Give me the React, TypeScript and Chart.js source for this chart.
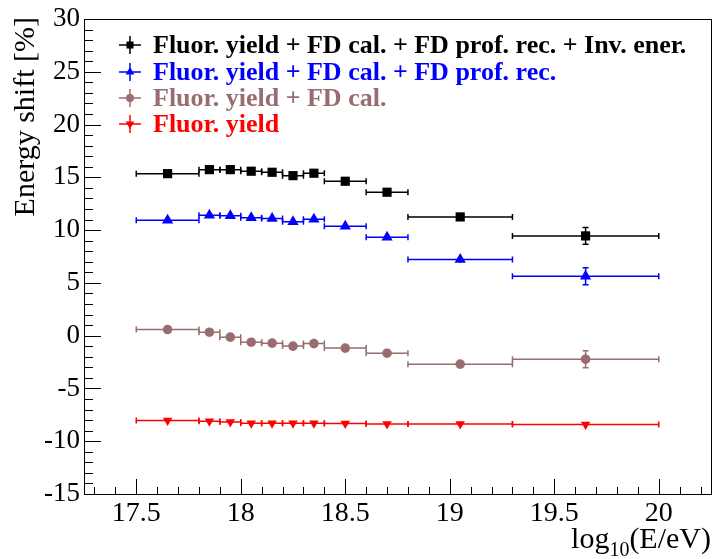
import React, { useEffect, useRef } from 'react';
import { Chart, registerables } from 'chart.js';
Chart.register(...registerables);

// ---------- data ----------
const binLow = [17.5, 17.8, 17.9, 18.0, 18.1, 18.2, 18.3, 18.4, 18.6, 18.8, 19.3];
const binHigh = [17.8, 17.9, 18.0, 18.1, 18.2, 18.3, 18.4, 18.6, 18.8, 19.3, 20.0];
const binCenter = [17.65, 17.85, 17.95, 18.05, 18.15, 18.25, 18.35, 18.5, 18.7, 19.05, 19.65];

const allShift = [15.35, 15.73, 15.73, 15.58, 15.48, 15.16, 15.39, 14.63, 13.59, 11.25, 9.45];
const allErr = [0.2, 0.2, 0.2, 0.2, 0.2, 0.2, 0.2, 0.2, 0.25, 0.3, 0.8];
const profShift = [10.94, 11.41, 11.37, 11.16, 11.09, 10.8, 11.03, 10.37, 9.33, 7.21, 5.63];
const profErr = [0.2, 0.2, 0.2, 0.2, 0.2, 0.2, 0.2, 0.2, 0.25, 0.3, 0.8];
const calShift = [0.58, 0.33, -0.14, -0.62, -0.71, -0.99, -0.75, -1.18, -1.66, -2.7, -2.23];
const calErr = [0.2, 0.2, 0.2, 0.2, 0.2, 0.2, 0.2, 0.2, 0.25, 0.3, 0.8];
const fyShift = [-8.04, -8.1, -8.19, -8.29, -8.29, -8.29, -8.29, -8.32, -8.38, -8.38, -8.41];
const fyErr = [0.1, 0.1, 0.1, 0.1, 0.1, 0.1, 0.1, 0.1, 0.1, 0.1, 0.15];

const seriesLabels = [
  'Fluor. yield + FD cal. + FD prof. rec. + Inv. ener.',
  'Fluor. yield + FD cal. + FD prof. rec.',
  'Fluor. yield + FD cal.',
  'Fluor. yield',
];
const seriesColors = ['#000000', '#0000ff', 'rgb(153,108,112)', '#ff0000'];
const seriesMarkers = ['square', 'triangle', 'circle', 'invtriangle'];
const seriesValues = [allShift, profShift, calShift, fyShift];
const seriesErrors = [allErr, profErr, calErr, fyErr];

const xTickValues = [17.5, 18, 18.5, 19, 19.5, 20];
const yTickValues = [-15, -10, -5, 0, 5, 10, 15, 20, 25, 30];
const xMinorStep = 0.1;
const yMinorStep = 1;

const yTitle = 'Energy shift [%]';
const xTitleMain = 'log';
const xTitleSub = '10';
const xTitleTail = '(E/eV)';

const FONT = '"Liberation Serif", "Times New Roman", Times, serif';

function drawMarker(ctx: CanvasRenderingContext2D, kind: string, x: number, y: number, r: number, color: string) {
  ctx.save();
  ctx.fillStyle = color;
  ctx.beginPath();
  if (kind === 'square') {
    const s = r * 1.414;
    ctx.rect(x - s / 2, y - s / 2, s, s);
  } else if (kind === 'triangle') {
    const h = r * Math.sin(Math.PI / 3);
    ctx.moveTo(x, y - r);
    ctx.lineTo(x + h, y + r / 2);
    ctx.lineTo(x - h, y + r / 2);
    ctx.closePath();
  } else if (kind === 'invtriangle') {
    const h = r * Math.sin(Math.PI / 3);
    ctx.moveTo(x, y + r);
    ctx.lineTo(x + h, y - r / 2);
    ctx.lineTo(x - h, y - r / 2);
    ctx.closePath();
  } else {
    ctx.arc(x, y, r, 0, Math.PI * 2);
  }
  ctx.fill();
  ctx.restore();
}

const errorBarPlugin = {
  id: 'errorBars',
  beforeDatasetsDraw(chart: any) {
    const ctx = chart.ctx as CanvasRenderingContext2D;
    const xs = chart.scales.x;
    const ys = chart.scales.y;
    ctx.save();
    ctx.lineWidth = 1.5;
    seriesValues.forEach((vals, d) => {
      ctx.strokeStyle = seriesColors[d];
      vals.forEach((v, i) => {
        const py = ys.getPixelForValue(v);
        const xl = xs.getPixelForValue(binLow[i]);
        const xh = xs.getPixelForValue(binHigh[i]);
        const px = xs.getPixelForValue(binCenter[i]);
        ctx.beginPath();
        ctx.moveTo(xl, py);
        ctx.lineTo(xh, py);
        ctx.moveTo(xl, py - 3);
        ctx.lineTo(xl, py + 3);
        ctx.moveTo(xh, py - 3);
        ctx.lineTo(xh, py + 3);
        const e = seriesErrors[d][i];
        const yt = ys.getPixelForValue(v + e);
        const yb = ys.getPixelForValue(v - e);
        ctx.moveTo(px, yt);
        ctx.lineTo(px, yb);
        if (py - yt > 5) {
          ctx.moveTo(px - 3, yt);
          ctx.lineTo(px + 3, yt);
          ctx.moveTo(px - 3, yb);
          ctx.lineTo(px + 3, yb);
        }
        ctx.stroke();
      });
    });
    ctx.restore();
  },
};

const decorPlugin = {
  id: 'decor',
  afterDraw(chart: any) {
    const ctx = chart.ctx as CanvasRenderingContext2D;
    const a = chart.chartArea;
    const xs = chart.scales.x;
    const ys = chart.scales.y;
    ctx.save();
    // frame
    ctx.strokeStyle = '#000';
    ctx.lineWidth = 1;
    ctx.strokeRect(Math.round(a.left) + 0.5, Math.round(a.top) + 0.5, Math.round(a.right - a.left), Math.round(a.bottom - a.top));
    // y ticks
    ctx.beginPath();
    for (let v = ys.min; v <= ys.max + 1e-6; v += yMinorStep) {
      const py = Math.round(ys.getPixelForValue(v)) + 0.5;
      const major = yTickValues.some((t) => Math.abs(t - v) < 1e-6);
      ctx.moveTo(a.left, py);
      ctx.lineTo(a.left + (major ? 17 : 9), py);
    }
    // x ticks
    const start = Math.ceil(xs.min / xMinorStep - 1e-6) * xMinorStep;
    for (let v = start; v <= xs.max + 1e-6; v += xMinorStep) {
      const px = Math.round(xs.getPixelForValue(v)) + 0.5;
      const major = xTickValues.some((t) => Math.abs(t - v) < 1e-6);
      ctx.moveTo(px, a.bottom);
      ctx.lineTo(px, a.bottom - (major ? 15 : 7));
    }
    ctx.stroke();

    // y title
    ctx.fillStyle = '#000';
    ctx.save();
    ctx.translate(34, 17);
    ctx.rotate(-Math.PI / 2);
    ctx.font = `30px ${FONT}`;
    ctx.textAlign = 'right';
    ctx.textBaseline = 'alphabetic';
    ctx.fillText(yTitle, 0, 0);
    ctx.restore();

    // x title
    ctx.textAlign = 'left';
    ctx.textBaseline = 'alphabetic';
    const mainFont = `30px ${FONT}`;
    const subFont = `20px ${FONT}`;
    ctx.font = mainFont;
    const w1 = ctx.measureText(xTitleMain).width;
    const w3 = ctx.measureText(xTitleTail).width;
    ctx.font = subFont;
    const w2 = ctx.measureText(xTitleSub).width;
    const xEnd = 711;
    let tx = xEnd - (w1 + w2 + w3);
    const base = 548;
    ctx.font = mainFont;
    ctx.fillText(xTitleMain, tx, base);
    tx += w1;
    ctx.font = subFont;
    ctx.fillText(xTitleSub, tx, base + 8);
    tx += w2;
    ctx.font = mainFont;
    ctx.fillText(xTitleTail, tx, base);

    // legend
    const rowY = [45, 72, 98, 124];
    seriesLabels.forEach((lab, i) => {
      const y = rowY[i];
      const mx = 130;
      ctx.strokeStyle = seriesColors[i];
      ctx.lineWidth = 1.5;
      ctx.beginPath();
      ctx.moveTo(mx - 11, y);
      ctx.lineTo(mx + 11, y);
      ctx.moveTo(mx, y - 9);
      ctx.lineTo(mx, y + 9);
      ctx.stroke();
      drawMarker(ctx, seriesMarkers[i], mx, y, seriesMarkers[i] === 'circle' ? 4 : 5, seriesColors[i]);
      ctx.fillStyle = seriesColors[i];
      ctx.font = `bold 26px ${FONT}`;
      ctx.textBaseline = 'middle';
      ctx.textAlign = 'left';
      ctx.fillText(lab, 153, y + 1);
    });
    ctx.restore();
  },
};

export default function App() {
  const canvasRef = useRef<HTMLCanvasElement>(null);
  useEffect(() => {
    const canvas = canvasRef.current;
    if (!canvas) return;
    const pointStyles: any[] = ['rect', 'triangle', 'circle', 'triangle'];
    const radii = [6.5, 6.5, 4.8, 5.5];
    const datasets = seriesValues.map((vals, d) => ({
      label: seriesLabels[d],
      data: binCenter.map((x, i) => ({ x, y: vals[i] })),
      pointStyle: pointStyles[d],
      rotation: d === 3 ? 180 : 0,
      pointRadius: radii[d],
      backgroundColor: seriesColors[d],
      borderColor: seriesColors[d],
      borderWidth: 0,
      showLine: false,
    }));
    const chart = new Chart(canvas, {
      type: 'scatter',
      data: { datasets },
      plugins: [errorBarPlugin, decorPlugin],
      options: {
        responsive: false,
        animation: false,
        devicePixelRatio: 1,
        layout: { autoPadding: false, padding: { top: 19, right: 2, left: 0, bottom: 0 } },
        plugins: { legend: { display: false }, tooltip: { enabled: false } },
        scales: {
          x: {
            type: 'linear',
            min: 17.25,
            max: 20.25,
            grid: { display: false, drawTicks: false },
            border: { display: false },
            afterBuildTicks: (s: any) => {
              s.ticks = xTickValues.map((v) => ({ value: v }));
            },
            afterFit: (s: any) => {
              s.height = 65;
              s.paddingLeft = 0;
              s.paddingRight = 0;
            },
            ticks: {
              font: { family: FONT, size: 28 },
              color: '#000',
              padding: 3,
              maxRotation: 0,
              autoSkip: false,
              callback: (v: any) => String(v),
            },
          },
          y: {
            type: 'linear',
            min: -15,
            max: 30,
            grid: { display: false, drawTicks: false },
            border: { display: false },
            afterBuildTicks: (s: any) => {
              s.ticks = yTickValues.map((v) => ({ value: v }));
            },
            afterFit: (s: any) => {
              s.width = 84;
              s.paddingTop = 0;
              s.paddingBottom = 0;
            },
            ticks: {
              font: { family: FONT, size: 27 },
              color: '#000',
              padding: 4,
              autoSkip: false,
              callback: (v: any) => String(v),
            },
          },
        },
      },
    });
    return () => chart.destroy();
  }, []);
  return (
    <div style={{ position: 'fixed', left: 0, top: 0, width: 713, height: 559, background: '#fff' }}>
      <canvas ref={canvasRef} width={713} height={559} style={{ width: 713, height: 559, display: 'block' }} />
    </div>
  );
}
